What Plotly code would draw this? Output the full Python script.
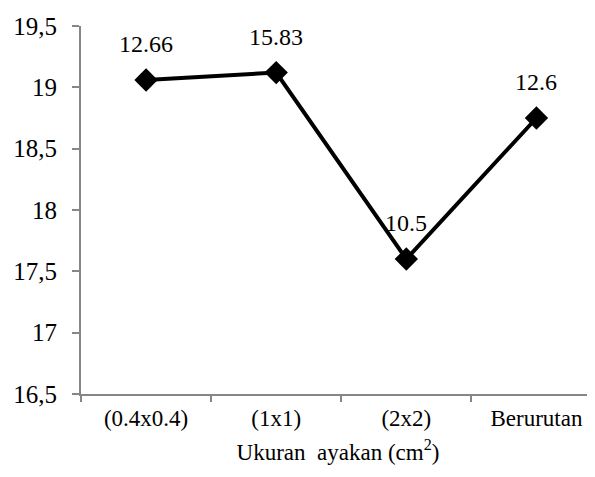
import plotly.graph_objects as go

categories = ["(0.4x0.4)", "(1x1)", "(2x2)", "Berurutan"]
values = [19.06, 19.12, 17.6, 18.75]
labels = ["12.66", "15.83", "10.5", "12.6"]
y_ticks = [16.5, 17, 17.5, 18, 18.5, 19, 19.5]

font_family = "Liberation Serif, Times New Roman, serif"
axis_color = "#868686"

fig = go.Figure()
fig.add_trace(go.Scatter(
    x=categories, y=values, mode="lines+markers",
    line=dict(color="black", width=4),
    marker=dict(symbol="diamond", size=18, color="black"),
    showlegend=False, cliponaxis=False,
))

for c, v, t in zip(categories, values, labels):
    fig.add_annotation(x=c, y=v, text=t, showarrow=False, yshift=36,
                       font=dict(family=font_family, size=24, color="black"))

fig.update_layout(
    width=587, height=469,
    margin=dict(l=73, r=0, t=18, b=83),
    paper_bgcolor="white", plot_bgcolor="white",
    separators=",.",
    font=dict(family=font_family, size=24, color="black"),
    xaxis=dict(
        range=[-0.5, 3.45],
        showline=True, linecolor=axis_color, linewidth=2,
        ticks="outside", tickson="boundaries", ticklen=6, tickcolor=axis_color, tickwidth=2,
        showgrid=False, zeroline=False,
        tickfont=dict(size=23), ticklabelstandoff=2,
        title=dict(text="Ukuran  ayakan (cm<sup>2</sup>)", font=dict(size=23), standoff=14),
    ),
    yaxis=dict(
        range=[16.5, 19.5], tickvals=y_ticks,
        showline=True, linecolor=axis_color, linewidth=2,
        ticks="outside", ticklen=7, tickcolor=axis_color, tickwidth=2,
        showgrid=False, zeroline=False,
        tickfont=dict(size=25), ticklabelstandoff=10,
    ),
)

fig.write_html("out.html")
